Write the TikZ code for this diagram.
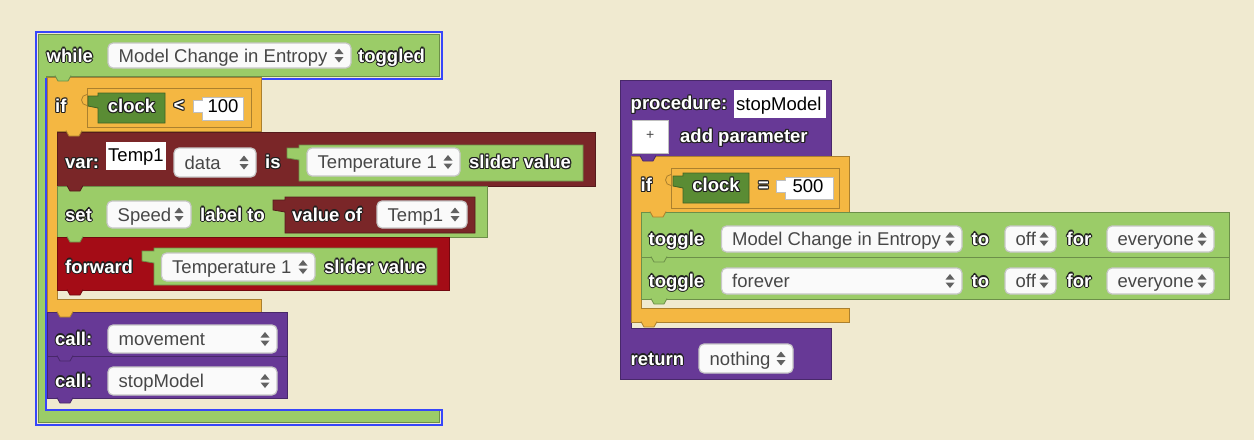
\documentclass[tikz,border=0pt]{standalone}
\usepackage{fontspec}
\setmainfont{Liberation Sans}
\usepackage{xcolor}

\definecolor{bgc}{RGB}{240,234,208}
\definecolor{bgreen}{RGB}{155,204,104}
\definecolor{bdkgreen}{RGB}{90,140,52}
\definecolor{borange}{RGB}{244,183,66}
\definecolor{bmaroon}{RGB}{122,38,40}
\definecolor{bred}{RGB}{164,12,22}
\definecolor{bpurple}{RGB}{103,57,150}
\definecolor{selblue}{RGB}{55,70,250}

\tikzset{
  blk/.style={fill=#1, draw=#1!70!black, line width=.8pt},
  lbl/.style={font=\fontsize{18.5}{22}\selectfont\bfseries, text=white, inner sep=0pt, anchor=base west},
  rim/.style={lbl, text=black!88},
  ddtxt/.style={font=\fontsize{18.5}{22}\selectfont, text=black!72, inner sep=0pt, anchor=base west},
  ddbox/.style={fill=black!2, draw=black!22, line width=1.2pt, rounded corners=5pt},
  fld/.style={fill=white, draw=black!25, line width=.6pt},
  arr/.style={fill=black!62}
}

% label with a dark rim: [anchor], name, x, baseline y, text
\newcommand\lab[5][base west]{%
  \foreach \dx/\dy in {-1.1/0,1.1/0,0/1.1,0/-1.1,-.8/.8,.8/.8,-.8/-.8,.8/-.8}
    \node[rim, anchor=#1] at ([xshift=\dx pt, yshift=\dy pt]#3,#4) {#5};
  \node[lbl, anchor=#1] (#2) at (#3,#4) {#5};}
% dropdown: name, x1, y1, x2, y2, text
\newcommand\dd[6]{%
  \draw[ddbox] (#2,#3) rectangle (#4,#5);
  \node[ddtxt] (#1) at (#2+10.5,{(#3+#5)/2+6.5}) {#6};
  \fill[arr] (#4-16.5,{(#3+#5)/2-1.5}) -- (#4-7.5,{(#3+#5)/2-1.5}) -- (#4-12,{(#3+#5)/2-7}) -- cycle;
  \fill[arr] (#4-16.5,{(#3+#5)/2+1.5}) -- (#4-7.5,{(#3+#5)/2+1.5}) -- (#4-12,{(#3+#5)/2+7}) -- cycle;}
% value block with output tab: x1, y1, x2, y2, colour, tab width
\newcommand\vblock[6]{\filldraw[blk=#5] (#1,#2) -- (#3,#2) -- (#3,#4) -- (#1,#4) -- (#1,#2+15)
  -- (#1-#6,#2+13) -- (#1-#6,#2+3) -- (#1,#2+3) -- cycle;}
% number field: x1, y1, x2, y2
\newcommand\numf[4]{\filldraw[fld] (#1+9,#2) -- (#3,#2) -- (#3,#4) -- (#1+9,#4) -- (#1+9,#2+15)
  -- (#1,#2+15) -- (#1,#2+3) -- (#1+9,#2+3) -- cycle;}
% notch under a block: x, y, colour
\newcommand\notch[3]{\filldraw[blk=#3] (#1,#2-.4) -- (#1+3,#2+5) -- (#1+13,#2+5) -- (#1+16,#2-.4);}

\begin{document}
\begin{tikzpicture}[x=1pt,y=-1pt]
\fill[bgc] (0,0) rectangle (1254,440);
\useasboundingbox (0,0) rectangle (1254,440);

%% while block
\filldraw[blk=bgreen] (38,34) -- (439,34) -- (439,76) -- (46,76) -- (46,410) -- (439,410) -- (439,422) -- (38,422) -- cycle;
\draw[selblue, line width=2pt] (35.5,31.5) -- (441.5,31.5) -- (441.5,78.5) -- (45.5,78.5) -- (45.5,409.5)
  -- (441.5,409.5) -- (441.5,425) -- (35.5,425) -- cycle;
\lab{while}{46.5}{62}{while}
\dd{whilevar}{108}{43}{351}{68}{Model Change in Entropy}
\lab{toggled}{358}{62}{toggled}

% if block
\filldraw[blk=borange] (47,77) -- (261,77) -- (261,131) -- (57,131) -- (57,299) -- (261,299) -- (261,312) -- (47,312) -- cycle;
\lab{if}{55}{112.5}{if}
\filldraw[blk=borange] (87,88) rectangle (251,127);
\filldraw[blk=borange] (87,94.5) arc[start angle=-90, end angle=-270, radius=5.5];
\vblock{98}{93}{165}{123}{bdkgreen}{10}
\lab[base]{clock}{131.5}{112.5}{clock}
\lab[base]{less}{179}{111.5}{<}
\numf{193}{97}{243}{120}
\node[ddtxt, anchor=base, text=black] (hundred) at (223,112.5) {100};

% var block
\filldraw[blk=bmaroon] (57,132) rectangle (595,186);
\lab{var}{65}{168.5}{var:}
\fill[white] (106,142) rectangle (166,170);
\node[ddtxt, text=black] (temp) at (108,161) {Temp1};
\dd{data}{174}{148}{256}{177}{data}
\lab{is}{265}{168.5}{is}
\vblock{299}{145}{583}{181}{bgreen}{12}
\dd{slider}{307}{148}{460}{176}{Temperature 1}
\lab{sval}{469}{168.5}{slider value}

% set block
\filldraw[blk=bgreen] (57,186) rectangle (487,237);
\lab{set}{65}{221}{set}
\dd{speed}{107}{201}{191}{228}{Speed}
\lab{labelto}{200}{221}{label to}
\vblock{285}{197}{475}{233}{bmaroon}{12}
\lab{valueof}{292}{221}{value of}
\dd{tempsel}{377}{201}{467}{228}{Temp1}

% forward block
\filldraw[blk=bred] (57,237) rectangle (449,290);
\lab{forward}{65}{273}{forward}
\vblock{154}{248}{437}{285}{bgreen}{12}
\dd{fwdslider}{161.5}{253}{315}{281}{Temperature 1}
\lab{fwdsval}{324}{273}{slider value}

% call blocks
\filldraw[blk=bpurple] (47,312) rectangle (287,356);
\lab{call1}{55}{345}{call:}
\dd{movement}{108}{325}{277}{353}{movement}
\filldraw[blk=bpurple] (47,356) rectangle (287,398);
\lab{call2}{55}{387}{call:}
\dd{stopcall}{108}{367}{277}{395}{stopModel}

% notches
\notch{55}{76}{bgreen}
\notch{66}{131}{borange}
\notch{67}{186}{bmaroon}
\notch{67}{237}{bgreen}
\notch{67}{290}{bred}
\notch{57}{312}{borange}
\notch{57}{356}{bpurple}
\notch{57}{398}{bpurple}

%% procedure block
\filldraw[blk=bpurple] (620,80) -- (831,80) -- (831,156) -- (631,156) -- (631,328) -- (831,328) -- (831,379) -- (620,379) -- cycle;
\lab{proc}{630.5}{109.5}{procedure:}
\fill[white] (734,90) rectangle (825.5,118);
\node[ddtxt, text=black] (pname) at (736,110) {stopModel};
\filldraw[fill=white, draw=black!25, line width=.8pt] (632.5,120) rectangle (668,153);
\node[ddtxt, font=\fontsize{14}{16}\selectfont, anchor=center] (plus) at (650.2,135.5) {+};
\lab{addpar}{680}{142.5}{add parameter}

% if block
\filldraw[blk=borange] (631,156) -- (849,156) -- (849,212) -- (641,212) -- (641,308) -- (849,308) -- (849,322) -- (631,322) -- cycle;
\lab{ifr}{640.5}{191.5}{if}
\filldraw[blk=borange] (671,168) rectangle (839,208);
\filldraw[blk=borange] (671,174.5) arc[start angle=-90, end angle=-270, radius=5.5];
\vblock{683}{173}{749}{203}{bdkgreen}{10}
\lab[base]{clockr}{716}{191.5}{clock}
\lab[base]{eq}{763.5}{191.5}{=}
\numf{776}{177}{833}{199}
\node[ddtxt, anchor=base, text=black] (fivehundred) at (808,192) {500};

% toggle blocks
\filldraw[blk=bgreen] (641,212) rectangle (1229,257);
\lab{tog1}{648.5}{245}{toggle}
\dd{togvar1}{721.5}{226}{962}{252}{Model Change in Entropy}
\lab{to1}{971.5}{245}{to}
\dd{off1}{1005}{226}{1056}{252}{off}
\lab{for1}{1066.5}{245}{for}
\dd{who1}{1107}{226}{1214}{252}{everyone}
\filldraw[blk=bgreen] (641,257) rectangle (1229,299);
\lab{tog2}{648.5}{287}{toggle}
\dd{togvar2}{721.5}{268}{962}{294}{forever}
\lab{to2}{971.5}{287}{to}
\dd{off2}{1005}{268}{1056}{294}{off}
\lab{for2}{1066.5}{287}{for}
\dd{who2}{1107}{268}{1214}{294}{everyone}

% return
\lab{ret}{630.5}{365}{return}
\dd{retval}{699}{344}{793}{373}{nothing}

% notches
\notch{640}{156}{bpurple}
\notch{650}{212}{borange}
\notch{651}{257}{bgreen}
\notch{651}{299}{bgreen}
\notch{641}{322}{borange}
\end{tikzpicture}
\end{document}
